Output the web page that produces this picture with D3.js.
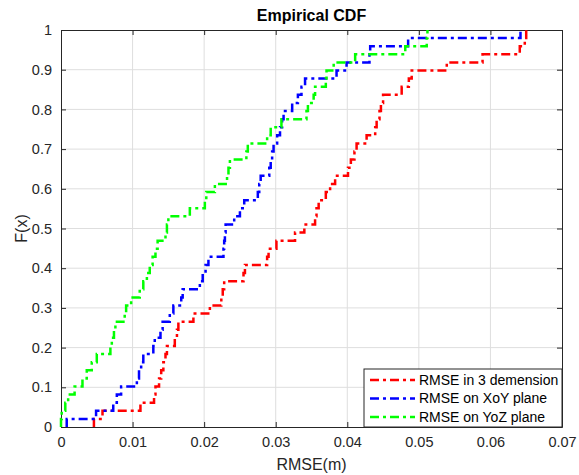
<!DOCTYPE html>
<html>
<head>
<meta charset="utf-8">
<script src="https://cdn.jsdelivr.net/npm/d3@7"></script>
<style>
  body { margin: 0; background: #fff; }
  svg { font-family: "Liberation Sans", Arial, sans-serif; }
</style>
</head>
<body>
<div id="wrapper"></div>
<script>
// step positions (RMSE, m) and F(x) after each step
var redX = [0.0046, 0.0058, 0.0111, 0.0130, 0.0132, 0.0137, 0.0140, 0.0143, 0.0146, 0.0148,
    0.0159, 0.0162, 0.0164, 0.0185, 0.0208, 0.0224, 0.0226, 0.0228, 0.0255, 0.0257,
    0.0288, 0.0290, 0.0301, 0.0327, 0.0340, 0.0355, 0.0357, 0.0360, 0.0370, 0.0376,
    0.0383, 0.0401, 0.0405, 0.0410, 0.0413, 0.0427, 0.0439, 0.0441, 0.0445, 0.0447,
    0.0450, 0.0476, 0.0486, 0.0490, 0.0539, 0.0589, 0.0641, 0.0648, 0.0650]
var blueX = [0.0008, 0.0049, 0.0073, 0.0078, 0.0084, 0.0106, 0.0109, 0.0112, 0.0115, 0.0129,
    0.0131, 0.0139, 0.0142, 0.0152, 0.0157, 0.0168, 0.0170, 0.0194, 0.0198, 0.0202,
    0.0206, 0.0227, 0.0228, 0.0229, 0.0230, 0.0242, 0.0250, 0.0256, 0.0275, 0.0277,
    0.0279, 0.0291, 0.0293, 0.0295, 0.0297, 0.0302, 0.0306, 0.0309, 0.0311, 0.0323,
    0.0331, 0.0336, 0.0341, 0.0385, 0.0399, 0.0431, 0.0432, 0.0485, 0.0642]
var greenX = [0.0000, 0.0001, 0.0006, 0.0010, 0.0019, 0.0030, 0.0036, 0.0043, 0.0050, 0.0069,
    0.0071, 0.0074, 0.0076, 0.0089, 0.0091, 0.0098, 0.0110, 0.0115, 0.0120, 0.0124,
    0.0128, 0.0132, 0.0135, 0.0146, 0.0148, 0.0150, 0.0180, 0.0201, 0.0203, 0.0215,
    0.0232, 0.0234, 0.0236, 0.0259, 0.0261, 0.0288, 0.0293, 0.0308, 0.0343, 0.0345,
    0.0353, 0.0355, 0.0370, 0.0371, 0.0381, 0.0411, 0.0481, 0.0511, 0.0512]
// F levels after each step (49 samples per series)
var levels = [0.0204, 0.0408, 0.0612, 0.0816, 0.1020, 0.1224, 0.1429, 0.1633, 0.1837, 0.2041,
    0.2245, 0.2449, 0.2653, 0.2857, 0.3061, 0.3265, 0.3469, 0.3673, 0.3878, 0.4082,
    0.4286, 0.4490, 0.4694, 0.4898, 0.5102, 0.5306, 0.5510, 0.5714, 0.5918, 0.6122,
    0.6327, 0.6531, 0.6735, 0.6939, 0.7143, 0.7347, 0.7551, 0.7755, 0.7959, 0.8163,
    0.8367, 0.8571, 0.8776, 0.8980, 0.9184, 0.9388, 0.9592, 0.9796, 1.0000]

var seriesNames = ['RMSE in 3 demension', 'RMSE on XoY plane', 'RMSE on YoZ plane']
var seriesColors = ['#ff0000', '#0000ff', '#00ff00']
var xTicks = [0, 0.01, 0.02, 0.03, 0.04, 0.05, 0.06, 0.07]
var yTicks = [0, 0.1, 0.2, 0.3, 0.4, 0.5, 0.6, 0.7, 0.8, 0.9, 1]

var margin = { top: 30, right: 17, bottom: 48, left: 61 },
    width = 579 - margin.left - margin.right,
    height = 475 - margin.top - margin.bottom

var svg = d3.select('#wrapper').append('svg')
    .attr('width', 579)
    .attr('height', 475)

var bounds = svg.append('g')
    .attr('transform', 'translate(' + margin.left + ',' + margin.top + ')')

var xScale = d3.scaleLinear().domain([0, 0.07]).range([0, width])
var yScale = d3.scaleLinear().domain([0, 1]).range([height, 0])

// grid
bounds.append('g').selectAll('line.gx')
    .data(xTicks.slice(1, -1))
    .join('line')
    .attr('x1', d => xScale(d)).attr('x2', d => xScale(d))
    .attr('y1', 0).attr('y2', height)
    .attr('stroke', '#dedede').attr('stroke-width', 1)
bounds.append('g').selectAll('line.gy')
    .data(yTicks.slice(1, -1))
    .join('line')
    .attr('y1', d => yScale(d)).attr('y2', d => yScale(d))
    .attr('x1', 0).attr('x2', width)
    .attr('stroke', '#dedede').attr('stroke-width', 1)

// axes, matlab-ish: ticks inside, box all round
var xAxis = bounds.append('g')
    .attr('transform', 'translate(0,' + height + ')')
    .call(d3.axisBottom(xScale).tickValues(xTicks).tickSizeInner(-5).tickSizeOuter(0).tickPadding(10)
        .tickFormat(d => d === 0 ? '0' : d3.format('.2f')(d)))
var xTop = bounds.append('g')
    .call(d3.axisTop(xScale).tickValues(xTicks).tickSizeInner(-5).tickSizeOuter(0).tickFormat(''))
var yAxis = bounds.append('g')
    .call(d3.axisLeft(yScale).tickValues(yTicks).tickSizeInner(-5).tickSizeOuter(0).tickPadding(9)
        .tickFormat(d => d === 0 || d === 1 ? d : d3.format('.1f')(d)))
var yRight = bounds.append('g')
    .attr('transform', 'translate(' + width + ',0)')
    .call(d3.axisRight(yScale).tickValues(yTicks).tickSizeInner(-5).tickSizeOuter(0).tickFormat(''))

;[xAxis, xTop, yAxis, yRight].forEach(a => {
    a.select('.domain').attr('stroke', '#262626')
    a.selectAll('.tick line').attr('stroke', '#262626')
    a.selectAll('.tick text')
        .attr('fill', '#262626')
        .style('font-size', '14.5px')
        .style('font-family', '"Liberation Sans", Arial, sans-serif')
})

// ecdf stairs
var allX = [redX, blueX, greenX]
var lineGenerator = d3.line()
    .x(d => xScale(d[0]))
    .y(d => yScale(d[1]))
    .curve(d3.curveStepAfter)

allX.forEach((xs, i) => {
    var pts = [[xs[0], 0]].concat(xs.map((x, j) => [x, levels[j]]))
    bounds.append('path')
        .attr('d', lineGenerator(pts))
        .attr('fill', 'none')
        .attr('stroke', seriesColors[i])
        .attr('stroke-width', 2.5)
        .attr('stroke-dasharray', '9,4,3,4')
})

// legend
var legW = 198, legH = 58
var legend = bounds.append('g')
    .attr('transform', 'translate(' + (width - legW) + ',' + (height - legH) + ')')
legend.append('rect')
    .attr('width', legW).attr('height', legH)
    .attr('fill', '#fff').attr('stroke', '#262626').attr('stroke-width', 1)
seriesNames.forEach((name, i) => {
    var y = 11 + i * 18.5
    legend.append('line')
        .attr('x1', 6).attr('x2', 51)
        .attr('y1', y).attr('y2', y)
        .attr('stroke', seriesColors[i])
        .attr('stroke-width', 2.5)
        .attr('stroke-dasharray', '9,4,3,4')
    legend.append('text')
        .attr('x', 55).attr('y', y)
        .attr('dy', '0.35em')
        .style('font-size', '14px')
        .attr('fill', '#000')
        .text(name)
})

// labels
svg.append('text')
    .attr('x', margin.left + width / 2).attr('y', 21)
    .attr('text-anchor', 'middle')
    .style('font-size', '16px').style('font-weight', 'bold')
    .attr('fill', '#000')
    .text('Empirical CDF')
svg.append('text')
    .attr('x', margin.left + width / 2).attr('y', 470)
    .attr('text-anchor', 'middle')
    .style('font-size', '16px')
    .attr('fill', '#262626')
    .text('RMSE(m)')
svg.append('text')
    .attr('transform', 'translate(27,' + (margin.top + height / 2) + ') rotate(-90)')
    .attr('text-anchor', 'middle')
    .style('font-size', '16px')
    .attr('fill', '#262626')
    .text('F(x)')
</script>
</body>
</html>
